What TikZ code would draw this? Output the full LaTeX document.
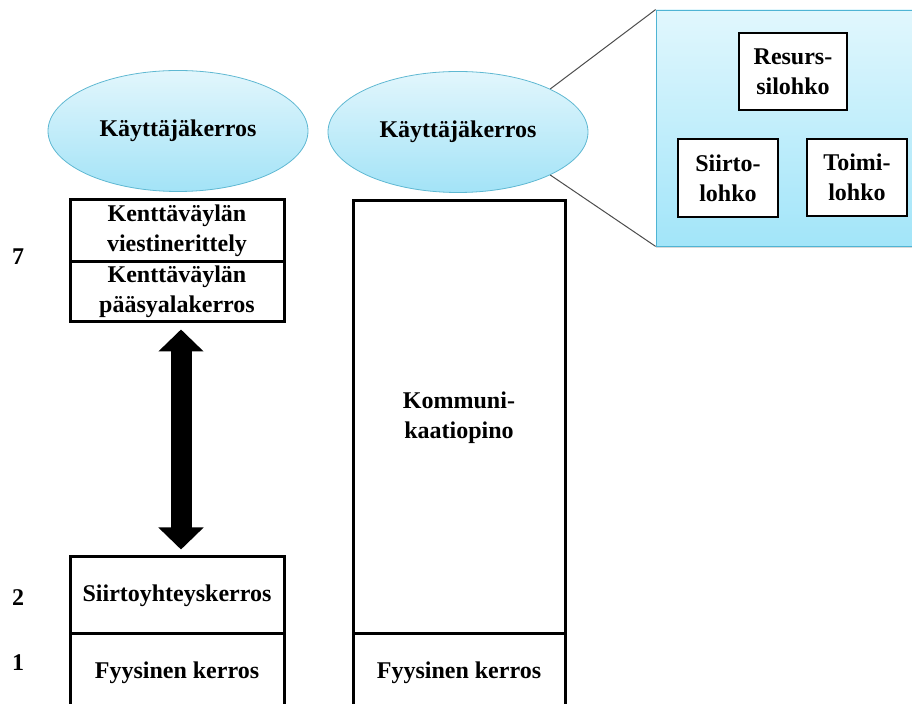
\documentclass[tikz,border=0pt]{standalone}
\usepackage{fontspec}
\setmainfont{Liberation Serif}
\usetikzlibrary{calc,positioning,shapes.geometric,arrows.meta,shadows}
\definecolor{elltop}{HTML}{E2F6FC}
\definecolor{ellbot}{HTML}{A3E3F7}
\definecolor{ellrim}{HTML}{5FB8D2}
\definecolor{pantop}{HTML}{E1F7FD}
\definecolor{panbot}{HTML}{A2E5F9}
\definecolor{panrim}{HTML}{4FB4D4}
\begin{document}
\begin{tikzpicture}[x=0.5pt,y=-0.5pt,font=\fontsize{12}{15}\selectfont\bfseries]
\tikzstyle{lyr}=[rectangle, draw, line width=1.5pt, fill=white, inner sep=0pt,
                        minimum width=107pt, align=center]
\tikzstyle{usr}=[ellipse, draw=ellrim, top color=elltop, bottom color=ellbot,
                        inner sep=0pt, minimum width=130pt, minimum height=60.5pt]
\tikzstyle{blk}=[rectangle, draw, line width=1.3pt, fill=white, inner sep=0pt,
                        minimum height=38.5pt, align=center]
\tikzstyle{bigarr}=[line width=10.5pt, {Triangle[width=22pt,length=11pt]}-{Triangle[width=22pt,length=11pt]},
                        shorten >=3pt, shorten <=3pt]
\useasboundingbox (0,0) rectangle (912,704);
%% left stack
\node[usr] (Lk) at (178,131) {K\"aytt\"aj\"akerros};
\node[lyr, minimum height=31pt] (Vi) at (177,231) {Kentt\"av\"ayl\"an\\viestinerittely};
\node[lyr, minimum height=30pt] (Pa) at (177,292) {Kentt\"av\"ayl\"an\\p\"a\"asyalakerros};
\node[lyr, minimum height=38.5pt] (Si) at (177,595.5) {Siirtoyhteyskerros};
\node[lyr, minimum height=38.5pt] (Fy) at (177,672.5) {Fyysinen kerros};
\foreach \n/\y in {7/257,2/598,1/663}{\node (n\n) at (18,\y) {\n};}
\draw[bigarr] ([xshift=2pt]Pa.south) -- ([xshift=2pt]Si.north);
%% right stack
\node[usr] (Rk) at (458,132) {K\"aytt\"aj\"akerros};
\node[lyr, minimum width=106pt, minimum height=216.5pt] (Ko) at (459,417.5) {Kommuni-\\kaatiopino};
\node[lyr, minimum width=106pt, minimum height=38.5pt] (Fy2) at (459,672.5) {Fyysinen kerros};
%% zoom panel
\node[rectangle, draw=panrim, top color=pantop, bottom color=panbot, inner sep=0pt,
      minimum width=132pt, minimum height=118pt,
      drop shadow={shadow xshift=0pt, shadow yshift=-1pt, opacity=0.3}] (Pn) at (788,128) {};
\node[blk, minimum width=54pt] (Re) at (793,71.5) {Resurs-\\silohko};
\node[blk, minimum width=50pt, minimum height=39pt] (St) at (728,178) {Siirto-\\lohko};
\node[blk, minimum width=50pt] (To) at (857,177.5) {Toimi-\\lohko};
\draw[gray!60!black, line width=0.5pt] (Rk.25) -- (Pn.north west);
\draw[gray!60!black, line width=0.5pt] (Rk.-25) -- (Pn.south west);
\end{tikzpicture}
\end{document}
